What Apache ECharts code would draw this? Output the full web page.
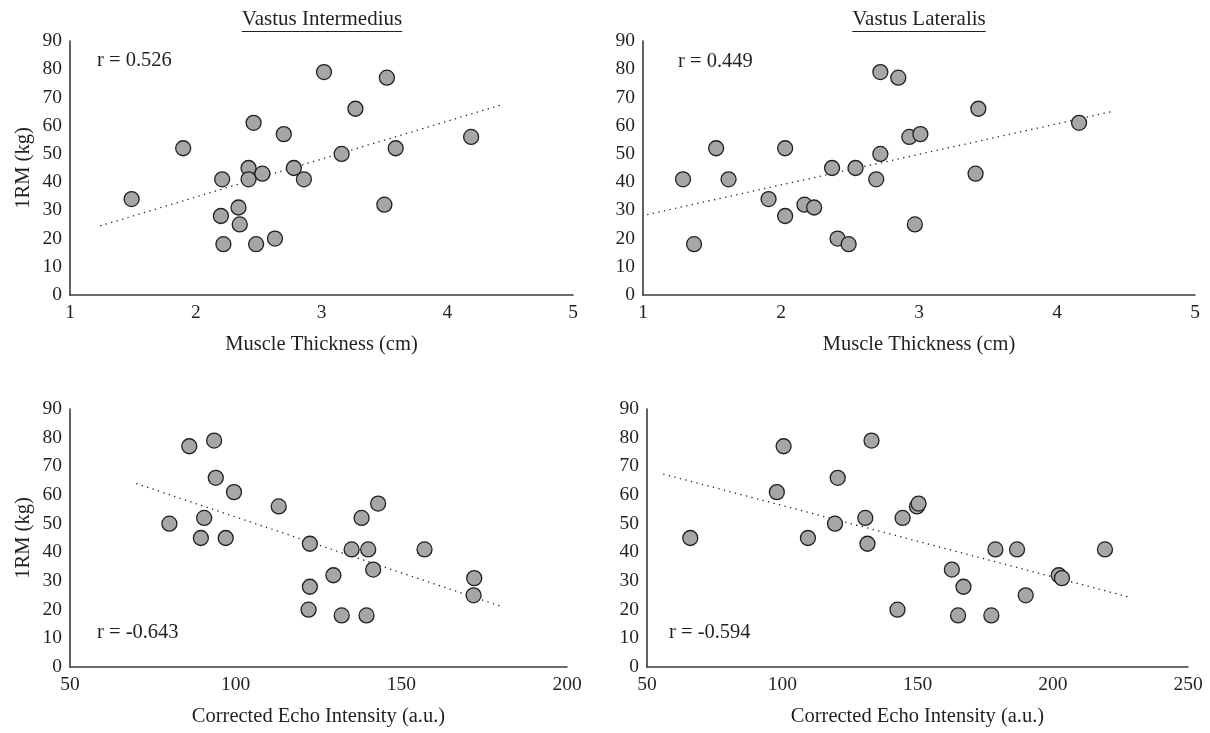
<!DOCTYPE html>
<html><head><meta charset="utf-8">
<script src="https://cdn.jsdelivr.net/npm/echarts@6/dist/echarts.min.js"></script>
<style>html,body{margin:0;padding:0;background:#fff}#c{width:1210px;height:733px}</style>
</head><body><div id="c"></div>
<script>
// ---- data ----
const panelTitles = ['Vastus Intermedius', 'Vastus Lateralis'];
const xNames = ['Muscle Thickness (cm)', 'Muscle Thickness (cm)', 'Corrected Echo Intensity (a.u.)', 'Corrected Echo Intensity (a.u.)'];
const yName = '1RM (kg)';
const rLabels = ['r = 0.526', 'r = 0.449', 'r = -0.643', 'r = -0.594'];

const viThickness = [1.49,1.90,2.21,2.20,2.22,2.34,2.35,2.42,2.42,2.46,2.48,2.53,2.63,2.70,2.78,2.86,3.02,3.16,3.27,3.50,3.52,3.59,4.19];
const viThickness1RM = [34,52,41,28,18,31,25,45,41,61,18,43,20,57,45,41,79,50,66,32,77,52,56];
const vlThickness = [1.29,1.37,1.53,1.62,1.91,2.03,2.03,2.17,2.24,2.37,2.41,2.49,2.54,2.69,2.72,2.72,2.85,2.93,2.97,3.01,3.41,3.43,4.16];
const vlThickness1RM = [41,18,52,41,34,52,28,32,31,45,20,18,45,41,79,50,77,56,25,57,43,66,61];
const viEcho = [80,86,89.5,90.5,93.5,94,97,99.5,113,122,122.4,122.4,129.5,132,135,138,139.5,140,141.5,143,157,171.8,172];
const viEcho1RM = [50,77,45,52,79,66,45,61,56,20,43,28,32,18,41,52,18,41,34,57,41,25,31];
const vlEcho = [66,98,100.5,109.5,119.5,120.5,130.7,131.5,133,142.6,144.5,149.8,150.4,162.7,165,167,177.3,178.8,186.8,190,202.2,203.4,219.3];
const vlEcho1RM = [45,61,77,45,50,66,52,43,79,20,52,56,57,34,18,28,18,41,41,25,32,31,41];

// trend line end points (x, y)
const viThicknessTrendX = [1.24, 4.44], viThicknessTrendY = [24.5, 67.5];
const vlThicknessTrendX = [1.03, 4.40], vlThicknessTrendY = [28.5, 65];
const viEchoTrendX = [70, 180.5], viEchoTrendY = [64, 21];
const vlEchoTrendX = [56, 229], vlEchoTrendY = [67.3, 24.2];

const xMins = [1, 1, 50, 50], xMaxs = [5, 5, 200, 250], xSteps = [1, 1, 50, 50];
const yMin = 0, yMax = 90, yStep = 10;

// ---- build ----
const FONT = '"Liberation Serif", "DejaVu Serif", serif';
const TXT = '#231f20';
const grids = [
  {left: 70, top: 41, width: 503, height: 254},
  {left: 643, top: 41, width: 552, height: 254},
  {left: 70, top: 409, width: 497, height: 258},
  {left: 647, top: 409, width: 541, height: 258}
];
const xs = [viThickness, vlThickness, viEcho, vlEcho];
const ys = [viThickness1RM, vlThickness1RM, viEcho1RM, vlEcho1RM];
const tx = [viThicknessTrendX, vlThicknessTrendX, viEchoTrendX, vlEchoTrendX];
const ty = [viThicknessTrendY, vlThicknessTrendY, viEchoTrendY, vlEchoTrendY];

const chart = echarts.init(document.getElementById('c'), null, {renderer: 'canvas'});
const series = [];
for (let i = 0; i < 4; i++) {
  series.push({
    type: 'line', xAxisIndex: i, yAxisIndex: i, symbol: 'none', silent: true,
    data: tx[i].map((x, k) => [x, ty[i][k]]),
    lineStyle: {color: '#222', width: 1.3, type: [1.3, 4.4]}, z: 2
  });
  series.push({
    type: 'scatter', xAxisIndex: i, yAxisIndex: i, symbolSize: 15,
    data: xs[i].map((x, k) => [x, ys[i][k]]),
    itemStyle: {color: '#a6a6a6', borderColor: '#231f20', borderWidth: 1.3, opacity: 1}, z: 3
  });
}

function measure(text, size) {
  const c = document.createElement('canvas').getContext('2d');
  c.font = size + 'px ' + FONT;
  return c.measureText(text).width;
}

const graphics = [];
// underlined panel titles
const titleCenters = [322, 919];
panelTitles.forEach((t, i) => {
  const w = measure(t, 21);
  graphics.push({type: 'text', left: titleCenters[i] - w / 2, top: 9,
    style: {text: t, font: '21px ' + FONT, fill: TXT}});
  graphics.push({type: 'line', shape: {x1: titleCenters[i] - w / 2, y1: 31.5, x2: titleCenters[i] + w / 2, y2: 31.5},
    style: {stroke: TXT, lineWidth: 1}});
});
// r annotations
const rPos = [[97, 50], [678, 51], [97, 622], [669, 622]];
rLabels.forEach((t, i) => {
  graphics.push({type: 'text', left: rPos[i][0], top: rPos[i][1],
    style: {text: t, font: '20.5px ' + FONT, fill: TXT}});
});

chart.setOption({
  animation: false,
  backgroundColor: '#fff',
  grid: grids.map(g => Object.assign({containLabel: false, outerBoundsMode: 'none'}, g)),
  xAxis: grids.map((g, i) => ({
    gridIndex: i, type: 'value', min: xMins[i], max: xMaxs[i], interval: xSteps[i],
    axisLine: {show: true, onZero: false, lineStyle: {color: '#3a3a3a', width: 1.6}},
    axisTick: {show: false}, splitLine: {show: false},
    axisLabel: {fontFamily: FONT, fontSize: 19.5, color: TXT, margin: 8, showMinLabel: true, showMaxLabel: true},
    name: xNames[i], nameLocation: 'middle', nameGap: 39,
    nameTextStyle: {fontFamily: FONT, fontSize: 20.5, color: TXT}
  })),
  yAxis: grids.map((g, i) => ({
    gridIndex: i, type: 'value', min: yMin, max: yMax, interval: yStep,
    axisLine: {show: true, onZero: false, lineStyle: {color: '#3a3a3a', width: 1.6}},
    axisTick: {show: false}, splitLine: {show: false},
    axisLabel: {fontFamily: FONT, fontSize: 19.5, color: TXT, margin: 8, showMinLabel: true, showMaxLabel: true},
    name: (i % 2 === 0) ? yName : '', nameLocation: 'middle', nameGap: 36, nameRotate: 90,
    nameTextStyle: {fontFamily: FONT, fontSize: 20.5, color: TXT}
  })),
  series: series,
  graphic: graphics
});
</script></body></html>
